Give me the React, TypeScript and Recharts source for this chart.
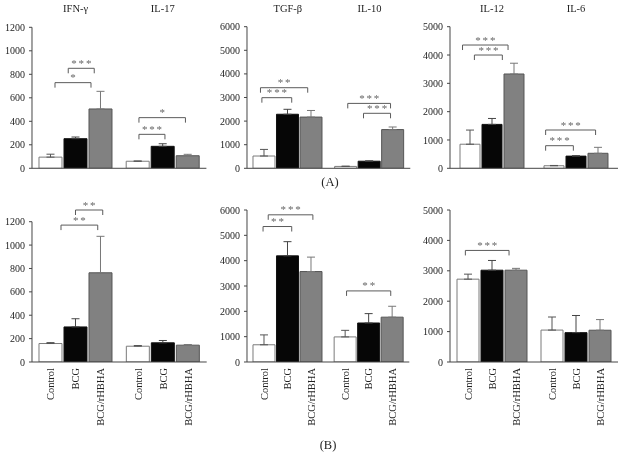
import React from 'react';
import { BarChart, Bar, XAxis, YAxis, ErrorBar, LabelList } from 'recharts';

const FONT = '"Liberation Serif", "Times New Roman", serif';

// treatment groups (one bar series each)
const GROUPS = ['Control', 'BCG', 'BCG/rHBHA'];

// bracket: [cytokine index, from bar, to bar, level (y units), stars]
type Bracket = [number, number, number, number, string];

// ---- (A) ----
const A1_CYTOKINES = ['IFN-γ', 'IL-17'];
const A1_CONTROL = [95, 60];
const A1_BCG = [252, 187];
const A1_HBHA = [505, 107];
const A1_CONTROL_ERR = [25, 2];
const A1_BCG_ERR = [14, 22];
const A1_HBHA_ERR = [150, 12];
const A1_TICKS = [0, 200, 400, 600, 800, 1000, 1200];
const A1_BRACKETS: Bracket[] = [
  [0, 0.71, 1.75, 851, '***'],
  [0, 0.18, 1.62, 729, '*'],
  [1, 0.05, 1.91, 431, '*'],
  [1, 0.05, 1.09, 289, '***'],
];

const A2_CYTOKINES = ['TGF-β', 'IL-10'];
const A2_CONTROL = [520, 80];
const A2_BCG = [2290, 300];
const A2_HBHA = [2170, 1640];
const A2_CONTROL_ERR = [280, 10];
const A2_BCG_ERR = [210, 15];
const A2_HBHA_ERR = [280, 110];
const A2_TICKS = [0, 1000, 2000, 3000, 4000, 5000, 6000];
const A2_BRACKETS: Bracket[] = [
  [0, -0.15, 1.86, 3415, '**'],
  [0, -0.09, 1.18, 2992, '***'],
  [1, 0.09, 1.91, 2750, '***'],
  [1, 0.76, 1.91, 2330, '***'],
];

const A3_CYTOKINES = ['IL-12', 'IL-6'];
const A3_CONTROL = [850, 90];
const A3_BCG = [1550, 430];
const A3_HBHA = [3330, 530];
const A3_CONTROL_ERR = [500, 10];
const A3_BCG_ERR = [210, 15];
const A3_HBHA_ERR = [380, 210];
const A3_TICKS = [0, 1000, 2000, 3000, 4000, 5000];
const A3_BRACKETS: Bracket[] = [
  [0, -0.34, 1.73, 4353, '***'],
  [0, 0.2, 1.47, 4000, '***'],
  [1, -0.38, 1.89, 1352, '***'],
  [1, -0.38, 0.88, 798, '***'],
];

// ---- (B) ----
const B1_CONTROL = [158, 135];
const B1_BCG = [300, 164];
const B1_HBHA = [763, 144];
const B1_CONTROL_ERR = [8, 6];
const B1_BCG_ERR = [70, 20];
const B1_HBHA_ERR = [312, 5];
const B1_BRACKETS: Bracket[] = [
  [0, 0.42, 1.89, 1171, '**'],
  [0, 1.0, 2.09, 1300, '**'],
];

const B2_CONTROL = [680, 990];
const B2_BCG = [4190, 1540];
const B2_HBHA = [3570, 1770];
const B2_CONTROL_ERR = [390, 260];
const B2_BCG_ERR = [560, 370];
const B2_HBHA_ERR = [570, 430];
const B2_BRACKETS: Bracket[] = [
  [0, -0.04, 1.18, 5348, '**'],
  [0, 0.18, 2.08, 5810, '***'],
  [1, 0.06, 1.94, 2806, '**'],
];

const B3_CONTROL = [2725, 1050];
const B3_BCG = [3020, 965];
const B3_HBHA = [3020, 1045];
const B3_CONTROL_ERR = [165, 430];
const B3_BCG_ERR = [320, 565];
const B3_HBHA_ERR = [60, 350];
const B3_BRACKETS: Bracket[] = [[0, -0.11, 1.71, 3670, '***']];

const SERIES = [
  { key: 'control', fill: '#ffffff', stroke: '#7a7a7a', err: '#555555' },
  { key: 'bcg', fill: '#060606', stroke: '#111111', err: '#444444' },
  { key: 'hbha', fill: '#818181', stroke: '#555555', err: '#777777' },
];

interface PanelProps {
  cytokines: string[];
  values: number[][];
  errors: number[][];
  ticks: number[];
  brackets: Bracket[];
  plot: { left: number; right: number; top: number; bottom: number };
  chartTop: number;
  catGap: number;
  gap: number;
  titles?: boolean;
  groupLabels?: boolean;
}

const Y_W = 40;

const Panel: React.FC<PanelProps> = (p) => {
  const data = p.cytokines.map((c, i) => ({
    cytokine: c,
    control: p.values[0][i],
    bcg: p.values[1][i],
    hbha: p.values[2][i],
    controlErr: [0, p.errors[0][i]],
    bcgErr: [0, p.errors[1][i]],
    hbhaErr: [0, p.errors[2][i]],
  }));
  const topAxisH = p.titles ? 20 : 0;
  const marginBottom = p.groupLabels ? 75 : 4;
  const margin = { top: p.plot.top - p.chartTop - topAxisH, right: 6, bottom: marginBottom, left: 0 };
  const width = p.plot.right - p.plot.left + Y_W + margin.right;
  const height = p.plot.bottom - p.chartTop + 1 + marginBottom;

  // significance brackets, placed with the bar's own scale (height / value)
  const renderBrackets = (lp: any) => {
    const vb = lp.viewBox ?? lp;
    const { x, y, width: w, height: h } = vb;
    const idx = lp.index;
    const v = p.values[0][idx];
    if (!v || h == null) return null;
    const perUnit = h / v;
    const base = y + h;
    const pitch = w + p.gap;
    const c0 = x + w / 2;
    return (
      <g key={`br-${idx}`}>
        {p.brackets
          .filter((b) => b[0] === idx)
          .map((b, k) => {
            const x1 = c0 + b[1] * pitch;
            const x2 = c0 + b[2] * pitch;
            const yy = base - b[3] * perUnit;
            return (
              <g key={k}>
                <path d={`M${x1},${yy + 5}V${yy}H${x2}V${yy + 5}`} fill="none" stroke="#5a5a5a" strokeWidth={1} />
                <text x={(x1 + x2) / 2 + 1} y={yy - 1.5} textAnchor="middle" fontSize={11} fill="#666"
                  fontFamily={FONT} letterSpacing={1.8}>
                  {b[4]}
                </text>
              </g>
            );
          })}
      </g>
    );
  };

  const renderGroup = (label: string) => (lp: any) => {
    const vb = lp.viewBox ?? lp;
    const cx = vb.x + vb.width / 2;
    const ty = vb.y + vb.height + 6;
    return (
      <text key={`g-${lp.index}`} x={cx} y={ty} transform={`rotate(-90 ${cx} ${ty})`} textAnchor="end"
        dy="0.35em" fontSize={10.5} fill="#222" fontFamily={FONT}>
        {label}
      </text>
    );
  };

  return (
    <div style={{ position: 'absolute', left: p.plot.left - Y_W, top: p.chartTop, willChange: 'transform' }}>
      <BarChart width={width} height={height} data={data} margin={margin}
        barCategoryGap={p.catGap} barGap={p.gap}>
        {p.titles && (
          <XAxis xAxisId="top" orientation="top" dataKey="cytokine" height={topAxisH}
            axisLine={false} tickLine={false} tickSize={0} tickMargin={15} interval={0}
            tick={{ fontSize: 10.5, fill: '#222', fontFamily: FONT }} />
        )}
        <XAxis dataKey="cytokine" height={1} tick={false} tickLine={false}
          axisLine={{ stroke: '#444', strokeWidth: 1 }} />
        <YAxis width={Y_W} domain={[0, p.ticks[p.ticks.length - 1]]} ticks={p.ticks} interval={0}
          tickSize={3} tickMargin={4} axisLine={{ stroke: '#444' }} tickLine={{ stroke: '#444' }}
          tick={{ fontSize: 10, fill: '#222', fontFamily: FONT }} allowDataOverflow />
        {SERIES.map((s, si) => (
          <Bar key={s.key} dataKey={s.key} fill={s.fill} stroke={s.stroke} strokeWidth={1}
            isAnimationActive={false}>
            <ErrorBar dataKey={`${s.key}Err`} width={4} stroke={s.err} strokeWidth={1} direction="y" />
            {si === 0 && <LabelList dataKey={s.key} content={renderBrackets} />}
            {p.groupLabels && <LabelList dataKey={s.key} content={renderGroup(GROUPS[si])} />}
          </Bar>
        ))}
      </BarChart>
    </div>
  );
};

const panelLabel = (left: number, top: number): React.CSSProperties => ({
  position: 'absolute', left, width: 60, top, textAlign: 'center', fontSize: 12.5, color: '#222', willChange: 'transform',
});

const App: React.FC = () => {
  return (
    <div style={{ position: 'absolute', left: 0, top: 0, width: 627, height: 456, background: '#fff', fontFamily: FONT }}>
      <Panel cytokines={A1_CYTOKINES} values={[A1_CONTROL, A1_BCG, A1_HBHA]}
        errors={[A1_CONTROL_ERR, A1_BCG_ERR, A1_HBHA_ERR]} ticks={A1_TICKS} brackets={A1_BRACKETS}
        plot={{ left: 32.3, right: 206.7, top: 27.3, bottom: 168.3 }} chartTop={0} catGap={7} gap={2} titles />
      <Panel cytokines={A2_CYTOKINES} values={[A2_CONTROL, A2_BCG, A2_HBHA]}
        errors={[A2_CONTROL_ERR, A2_BCG_ERR, A2_HBHA_ERR]} ticks={A2_TICKS} brackets={A2_BRACKETS}
        plot={{ left: 246.7, right: 410, top: 26.7, bottom: 168.3 }} chartTop={0} catGap={6} gap={1.5} titles />
      <Panel cytokines={A3_CYTOKINES} values={[A3_CONTROL, A3_BCG, A3_HBHA]}
        errors={[A3_CONTROL_ERR, A3_BCG_ERR, A3_HBHA_ERR]} ticks={A3_TICKS} brackets={A3_BRACKETS}
        plot={{ left: 450, right: 618, top: 26.7, bottom: 168.3 }} chartTop={0} catGap={10} gap={2} titles />

      <Panel cytokines={A1_CYTOKINES} values={[B1_CONTROL, B1_BCG, B1_HBHA]}
        errors={[B1_CONTROL_ERR, B1_BCG_ERR, B1_HBHA_ERR]} ticks={A1_TICKS} brackets={B1_BRACKETS}
        plot={{ left: 32, right: 206.7, top: 221.7, bottom: 362 }} chartTop={185} catGap={7} gap={2} groupLabels />
      <Panel cytokines={A2_CYTOKINES} values={[B2_CONTROL, B2_BCG, B2_HBHA]}
        errors={[B2_CONTROL_ERR, B2_BCG_ERR, B2_HBHA_ERR]} ticks={A2_TICKS} brackets={B2_BRACKETS}
        plot={{ left: 246.7, right: 409, top: 210, bottom: 362 }} chartTop={185} catGap={6} gap={1.5} groupLabels />
      <Panel cytokines={A3_CYTOKINES} values={[B3_CONTROL, B3_BCG, B3_HBHA]}
        errors={[B3_CONTROL_ERR, B3_BCG_ERR, B3_HBHA_ERR]} ticks={A3_TICKS} brackets={B3_BRACKETS}
        plot={{ left: 450, right: 618, top: 210, bottom: 362 }} chartTop={185} catGap={7} gap={2} groupLabels />

      <div style={panelLabel(300, 175)}>(A)</div>
      <div style={panelLabel(298, 438)}>(B)</div>
    </div>
  );
};

export default App;
